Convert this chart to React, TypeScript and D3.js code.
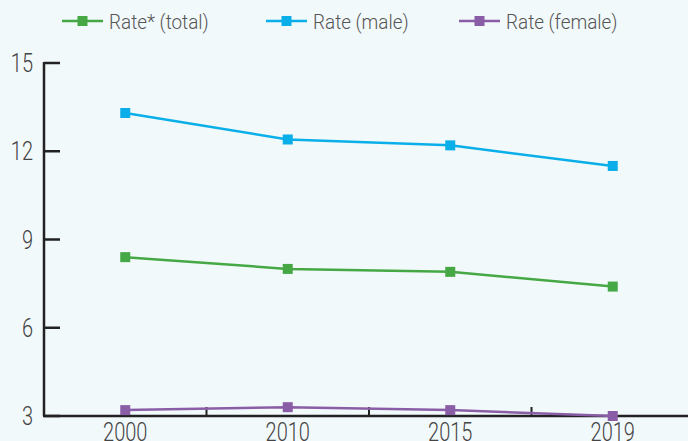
import React from "react";
import * as d3 from "d3";

const years = ["2000", "2010", "2015", "2019"];
const rateTotal = [8.4, 8.0, 7.9, 7.4];
const rateMale = [13.3, 12.4, 12.2, 11.5];
const rateFemale = [3.2, 3.3, 3.2, 3.0];
const yTicks = [3, 6, 9, 12, 15];
const seriesNames = ["Rate* (total)", "Rate (male)", "Rate (female)"];
const seriesColors = ["#45a844", "#0aafe9", "#8a5ea7"];

const W = 688;
const H = 441;
const FONT = "Roboto, 'Noto Sans', sans-serif";
const SX = 0.8;
const SXL = 0.9;

export default function App() {
  const x = d3.scaleBand<string>().domain(years).range([44, 694]).padding(0);
  const y = d3.scaleLinear().domain([3, 15]).range([416, 63]);
  const cx = (d: string) => (x(d) as number) + x.bandwidth() / 2;
  const series = [rateTotal, rateMale, rateFemale];
  const line = d3
    .line<number>()
    .x((_, i) => cx(years[i]))
    .y((v) => y(v));
  const legendX = [62, 266, 459];
  const boundaries = years.slice(1).map((yr) => x(yr) as number);

  return (
    <svg
      width={W}
      height={H}
      style={{ position: "absolute", left: 0, top: 0, background: "#f2f9fb" }}
    >
      <rect x={0} y={0} width={W} height={H} fill="#f2f9fb" />
      {/* legend */}
      {seriesNames.map((name, i) => (
        <g key={name} transform={`translate(${legendX[i]},21)`}>
          <line x1={0} x2={41} y1={0} y2={0} stroke={seriesColors[i]} strokeWidth={2.5} />
          <rect x={15.5} y={-5} width={10} height={10} fill={seriesColors[i]} />
          <g transform={`translate(47,0) scale(${SXL},1)`}>
            <text x={0} y={0} dy="0.36em" fontFamily={FONT} fontWeight={300} fontSize={21} fill="#555">
              {name}
            </text>
          </g>
        </g>
      ))}
      {/* y axis */}
      <line x1={44} x2={44} y1={y(15) - 1} y2={y(3)} stroke="#222" strokeWidth={2.5} />
      {yTicks.map((t) => (
        <g key={t}>
          <line x1={44} x2={60} y1={y(t)} y2={y(t)} stroke="#222" strokeWidth={2.5} />
          <g transform={`translate(33,${y(t)}) scale(${SX},1)`}>
            <text
              x={0}
              y={0}
              dy="0.36em"
              textAnchor="end"
              fontFamily={FONT}
              fontWeight={300}
              fontSize={25}
              fill="#444"
            >
              {t}
            </text>
          </g>
        </g>
      ))}
      {/* x axis */}
      <line x1={43} x2={W} y1={y(3)} y2={y(3)} stroke="#222" strokeWidth={2.5} />
      {boundaries.map((b) => (
        <line key={b} x1={b} x2={b} y1={y(3)} y2={y(3) - 9} stroke="#222" strokeWidth={2} />
      ))}
      {years.map((yr) => (
        <g key={yr} transform={`translate(${cx(yr)},441) scale(${SX},1)`}>
          <text
            x={0}
            y={0}
            textAnchor="middle"
            fontFamily={FONT}
            fontWeight={300}
            fontSize={25}
            fill="#444"
          >
            {yr}
          </text>
        </g>
      ))}
      {/* series */}
      {series.map((vals, si) => (
        <g key={si}>
          <path d={line(vals) as string} fill="none" stroke={seriesColors[si]} strokeWidth={2.5} />
          {vals.map((v, i) => (
            <rect
              key={i}
              x={cx(years[i]) - 5}
              y={y(v) - 5}
              width={10}
              height={10}
              fill={seriesColors[si]}
            />
          ))}
        </g>
      ))}
    </svg>
  );
}
